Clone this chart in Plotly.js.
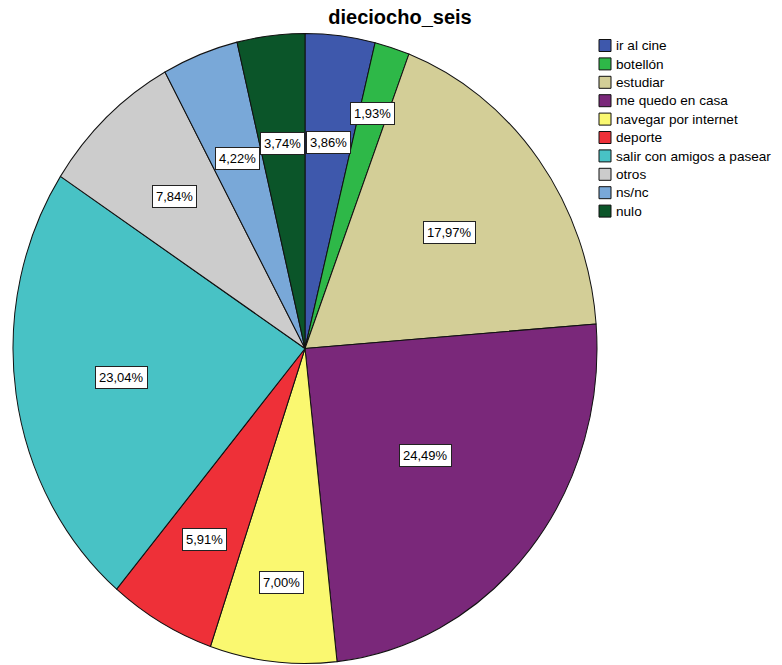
<!DOCTYPE html>
<html>
<head>
<meta charset="utf-8">
<script src="https://cdn.plot.ly/plotly-3.0.1.min.js"></script>
<style>
  html, body { margin: 0; padding: 0; background: #fff; }
  #chart { width: 782px; height: 665px; }
  .legend .legendtext { font-size: 13.6px !important; }
  .legend .legendpie { transform: translate(29px, 0px); }
  .legend .scrollbox, .legend .bg { clip-path: none !important; }
  .legend, .legend g { clip-path: none !important; }
</style>
</head>
<body>
<div id="chart"></div>
<script>
// ---- data ----
const categories = ["ir al cine", "botellón", "estudiar", "me quedo en casa", "navegar por internet",
                    "deporte", "salir con amigos a pasear", "otros", "ns/nc", "nulo"];
const percentages = [3.86, 1.93, 17.97, 24.49, 7.00, 5.91, 23.04, 7.84, 4.22, 3.74];
const sliceColors = ["#3E58AC", "#2EB848", "#D3CE97", "#7A287A", "#FAF870",
                     "#EE3038", "#48C2C5", "#CCCCCC", "#79A8D8", "#0B5529"];
// relative radial position of each value label (style)
const labelRadius = [0.66, 0.78, 0.617, 0.534, 0.747, 0.697, 0.634, 0.658, 0.647, 0.656];

// ---- layout geometry ----
const W = 782, H = 665;
const cx = 305, cy = 348.5, R = 292, yStretch = 1.0788;
const domX = [(cx - R) / W, (cx + R) / W];
const domY = [(H - (cy + R)) / H, (H - (cy - R)) / H];
const legendStep = 18.4;

// stretch the pie vertically, as in the reference (ellipse)
const st = document.createElement('style');
st.textContent = `.pielayer { transform: translate(0px, ${cy}px) scale(1, ${yStretch}) translate(0px, ${-cy}px); }`;
document.head.appendChild(st);

const total = percentages.reduce((a, b) => a + b, 0);
let cum = 0;
const annotations = percentages.map((v, i) => {
  const mid = (cum + v / 2) / total * 2 * Math.PI;
  cum += v;
  const px = cx + R * labelRadius[i] * Math.sin(mid);
  const py = cy - R * yStretch * labelRadius[i] * Math.cos(mid);
  return {
    x: px / W, y: 1 - py / H, xref: 'paper', yref: 'paper',
    xanchor: 'center', yanchor: 'middle', showarrow: false,
    text: v.toFixed(2).replace('.', ',') + '%',
    font: { family: 'Liberation Sans, Arial, sans-serif', size: 13, color: '#000' },
    bgcolor: '#ffffff', bordercolor: '#222222', borderwidth: 1, borderpad: 3
  };
});

const trace = {
  type: 'pie',
  labels: categories,
  values: percentages,
  sort: false,
  direction: 'clockwise',
  rotation: 0,
  textinfo: 'none',
  hoverinfo: 'label+percent',
  marker: { colors: sliceColors, line: { color: '#111111', width: 1 } },
  domain: { x: domX, y: domY }
};

const layout = {
  width: W, height: H,
  margin: { l: 0, r: 0, t: 0, b: 0 },
  paper_bgcolor: '#fff',
  font: { family: 'Liberation Sans, Arial, sans-serif', color: '#000' },
  title: {
    text: '<b>dieciocho_seis</b>',
    font: { family: 'Liberation Sans, Arial, sans-serif', size: 20, color: '#000' },
    x: 400 / W, xanchor: 'center', xref: 'paper',
    y: 1 - 17 / H, yanchor: 'middle', yref: 'paper'
  },
  showlegend: true,
  legend: {
    x: 576 / W, xanchor: 'left', y: 1 - 31 / H, yanchor: 'top',
    font: { family: 'Liberation Sans, Arial, sans-serif', size: 12, color: '#000' },
    bgcolor: 'rgba(0,0,0,0)', traceorder: 'normal'
  },
  annotations: annotations
};

Plotly.newPlot('chart', [trace], layout, { displayModeBar: false, staticPlot: true }).then(gd => {
  // tighten legend row spacing to match reference
  const items = gd.querySelectorAll('.legend .traces');
  let y0 = null;
  items.forEach((el, i) => {
    const m = /translate\(\s*([-\d.]+)[ ,]+([-\d.]+)\s*\)/.exec(el.getAttribute('transform') || '');
    if (!m) return;
    const x = parseFloat(m[1]), y = parseFloat(m[2]);
    if (y0 === null) y0 = y;
    el.setAttribute('transform', `translate(${x},${y0 + i * legendStep})`);
  });
  gd.querySelectorAll('.legend [clip-path]').forEach(el => el.removeAttribute('clip-path'));
});
</script>
</body>
</html>
